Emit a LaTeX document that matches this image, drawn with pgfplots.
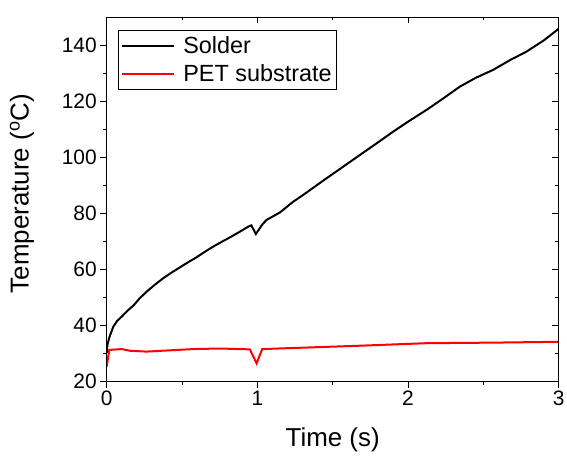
\documentclass[border=0pt]{standalone}
\usepackage{pgfplots}
\pgfplotsset{compat=1.18}
\usepackage{fontspec}
\setmainfont{Liberation Sans}
\begin{document}
\begin{tikzpicture}
\useasboundingbox (0,0) rectangle (567bp,457bp);
\pgfplotsset{
  common/.style={
    at={(106.7bp,76bp)}, anchor=south west,
    scale only axis, width=452bp, height=364bp,
    xmin=0, xmax=3, ymin=20, ymax=150,
    xtick={0,1,2,3}, ytick={20,40,...,140},
    minor x tick num=1, minor y tick num=1,
    major tick length=6.5bp, minor tick length=3.5bp,
    every tick/.style={black, line width=0.9bp},
    axis line style={line width=0.9bp},
  }
}
\begin{axis}[common,
  tick align=outside, xtick pos=bottom, ytick pos=left,
  /pgf/number format/assume math mode=true,
  ticklabel style={font=\fontsize{21}{25}\selectfont},
  xlabel={Time (s)}, ylabel={Temperature (\textsuperscript{o}C)},
  label style={font=\fontsize{26}{30}\selectfont},
  xlabel style={at={(axis description cs:0.5,-0.162)}, anchor=center},
  ylabel style={at={(axis description cs:-0.1875,0.515)}, anchor=center},
  legend style={at={(axis description cs:0.025,0.964)}, anchor=north west,
    draw=black, line width=0.7bp, font=\fontsize{23.5}{28}\selectfont,
    inner xsep=3bp, inner ysep=4.5bp, row sep=5.5bp},
  legend cell align=left,
  legend image code/.code={\draw[#1, line width=2bp] (0bp,0bp) -- (52bp,0bp); \path (58bp,0bp);},
]
\addplot[black, line width=2bp] coordinates {
(0,30) (0.005,33) (0.02,36) (0.044,39.4) (0.07,41.5) (0.1,43) (0.14,45.2)
(0.18,47.1) (0.22,49.6) (0.265,51.9) (0.32,54.4) (0.375,56.7) (0.43,58.7)
(0.486,60.6) (0.54,62.4) (0.597,64.2) (0.65,66.1) (0.707,68) (0.76,69.6)
(0.818,71.3) (0.88,73.2) (0.939,75.1) (0.96,75.6) (0.99,72.5) (1.0,73.3)
(1.03,75.7) (1.06,77.5) (1.15,80.2) (1.237,84.0) (1.3,86.3) (1.459,92.4)
(1.55,95.8) (1.68,100.7) (1.8,105.2) (1.90,109.0) (2.0,112.6) (2.122,116.8)
(2.22,120.4) (2.343,125.1) (2.45,128.3) (2.564,131.1) (2.68,134.7)
(2.785,137.6) (2.9,141.6) (3.0,145.8)
};
\addlegendentry{Solder}
\addplot[red, line width=2bp] coordinates {
(0,25.1) (0.017,31.1) (0.1,31.4) (0.155,30.8) (0.265,30.5) (0.4,30.9)
(0.574,31.4) (0.75,31.6) (0.95,31.3) (0.995,26.3) (1.032,31.4) (1.3,31.9)
(1.68,32.6) (2.12,33.5) (2.56,33.7) (3.0,34.0)
};
\addlegendentry{PET substrate}
\end{axis}
\begin{axis}[common,
  tick align=inside, xtick pos=top, ytick pos=right,
  xticklabels={}, yticklabels={},
]
\end{axis}
\end{tikzpicture}
\end{document}
